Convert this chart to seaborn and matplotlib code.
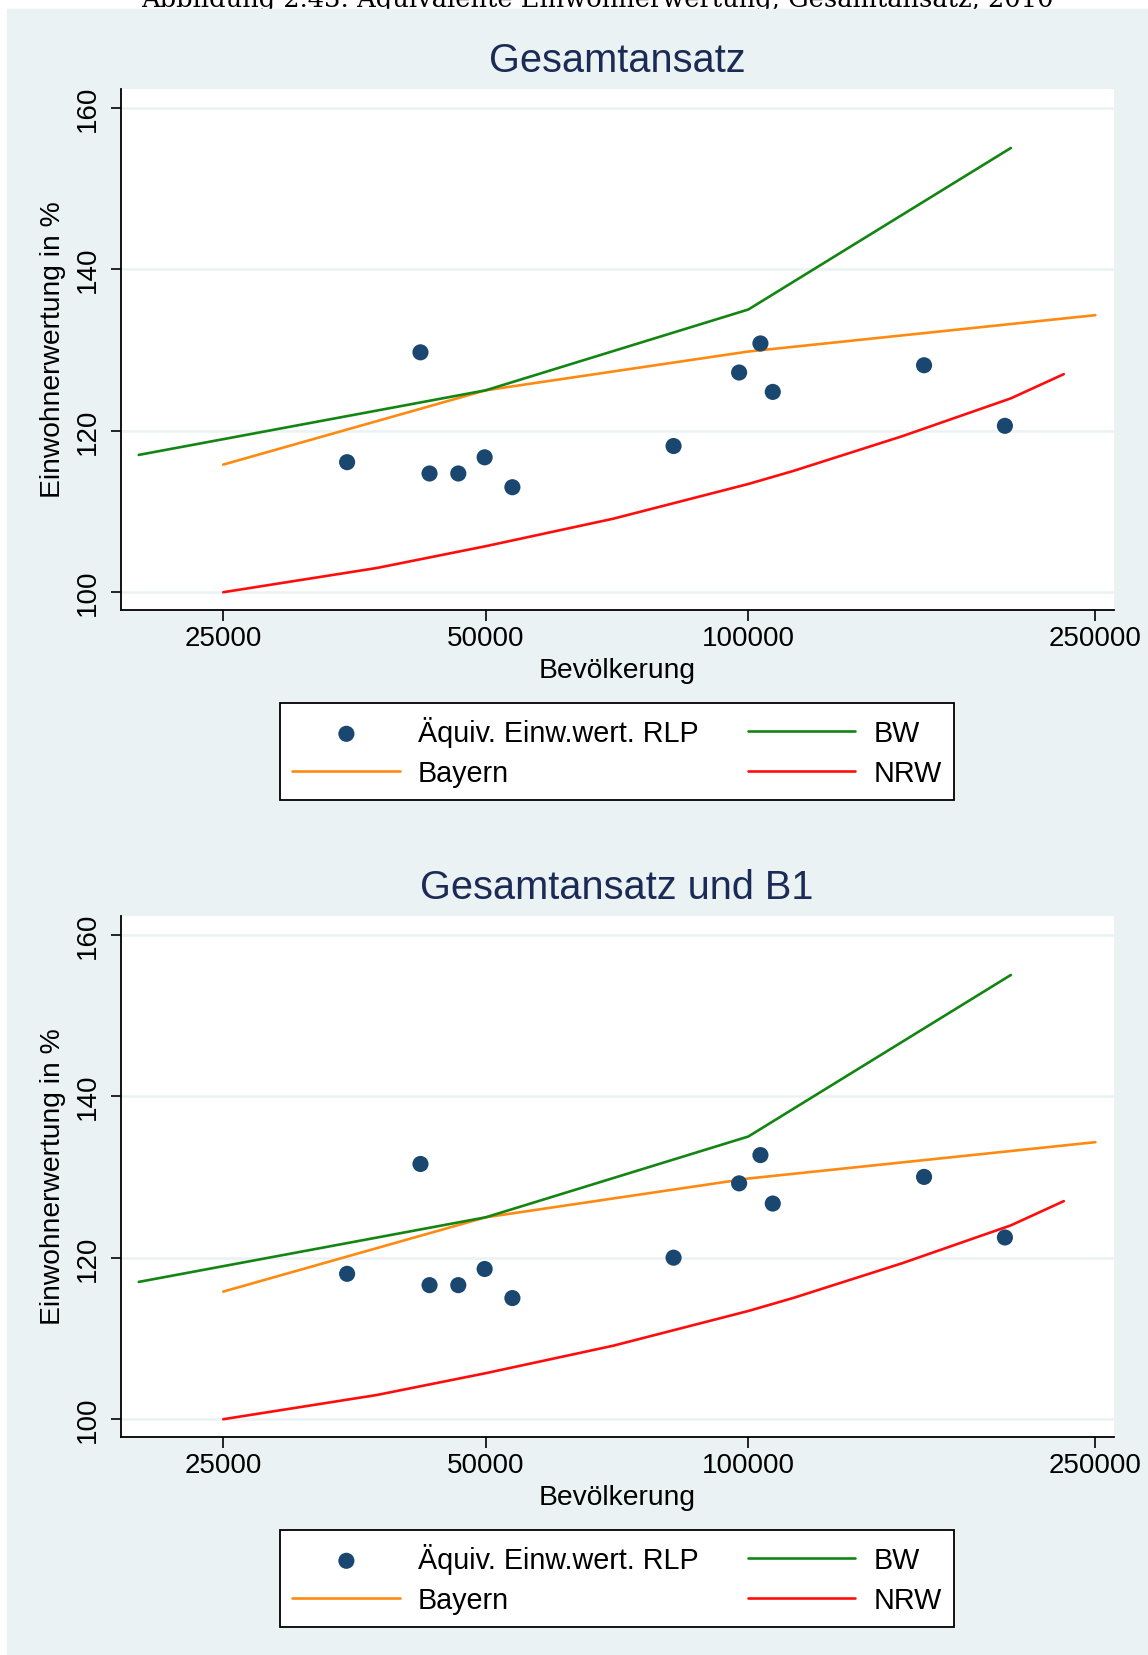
import numpy as np
import pandas as pd
import seaborn as sns
import matplotlib.pyplot as plt
from matplotlib.patches import Rectangle
from matplotlib.ticker import NullLocator

# --- data ---
rlp_pop = [34670, 42080, 43100, 46500, 49850, 53640, 82090, 97600, 103250, 106670, 159040, 196890]
rlp_gesamt = [116.1, 129.7, 114.7, 114.7, 116.7, 113.0, 118.1, 127.2, 130.8, 124.8, 128.1, 120.6]
rlp_gesamt_b1 = [118.0, 131.6, 116.6, 116.6, 118.6, 115.0, 120.0, 129.2, 132.7, 126.7, 130.0, 122.5]

bw_pop = [20000, 50000, 100000, 200000]
bw_val = [117.0, 125.0, 135.0, 155.0]
bayern_pop = [25000, 50000, 100000, 250000]
bayern_val = [115.8, 125.0, 129.8, 134.3]
nrw_pop = [25000, 37500, 50000, 70000, 100000, 112500, 150000, 200000, 230000]
nrw_val = [100.0, 103.0, 105.7, 109.1, 113.4, 115.0, 119.3, 124.0, 127.0]

x_ticks = [25000, 50000, 100000, 250000]
x_ticklabels = ["25000", "50000", "100000", "250000"]
y_ticks = [100, 120, 140, 160]

panel_titles = ["Gesamtansatz", "Gesamtansatz und B1"]
panel_points = [rlp_gesamt, rlp_gesamt_b1]
caption = "Abbildung 2.43: Äquivalente Einwohnerwertung, Gesamtansatz, 2010"

# --- style ---
sns.set_style("white")
plt.rcParams["font.family"] = ["Liberation Sans", "DejaVu Sans"]
plt.rcParams["text.color"] = "black"
plt.rcParams["axes.labelcolor"] = "black"

BG = "#eaf2f3"
NAVY = "#1a476f"
TITLE_C = "#1c2b55"
W, H = 1148, 1656

fig = plt.figure(figsize=(W / 100, H / 100), dpi=100)
fig.patch.set_facecolor("white")


def fy(py):
    return 1 - py / H


# caption, cut off at the top edge like the page crop
fig.text(597 / W, fy(7.3), caption, ha="center", va="baseline", fontsize=18.5,
         family=["DejaVu Serif"], color="black", zorder=-3)

# grey graph regions (behind the axes)
fig.patches.append(Rectangle((7.3 / W, fy(838)), 1 - 7.3 / W, (838 - 10) / H,
                             transform=fig.transFigure, color=BG, zorder=-2))
fig.patches.append(Rectangle((7.3 / W, 0), 1 - 7.3 / W, fy(839),
                             transform=fig.transFigure, color=BG, zorder=-2))

for i, (title, pts) in enumerate(zip(panel_titles, panel_points)):
    off = 827 * i
    ax = fig.add_axes([120.5 / W, fy(611.4 + off), 993.2 / W, 521.4 / H])
    ax.set_facecolor("white")

    sns.scatterplot(x=rlp_pop, y=pts, ax=ax, color=NAVY, s=135, edgecolor="none",
                    label="Äquiv. Einw.wert. RLP", zorder=4)
    sns.lineplot(x=bayern_pop, y=bayern_val, ax=ax, color="#ff8a12", lw=1.9,
                 sort=False, estimator=None, label="Bayern", zorder=3)
    sns.lineplot(x=bw_pop, y=bw_val, ax=ax, color="#138513", lw=1.9,
                 sort=False, estimator=None, label="BW", zorder=3)
    sns.lineplot(x=nrw_pop, y=nrw_val, ax=ax, color="#ff0d0d", lw=1.9,
                 sort=False, estimator=None, label="NRW", zorder=3)

    ax.set_xscale("log")
    ax.set_xlim(19060, 262400)
    ax.set_ylim(97.75, 162.3)
    ax.set_xticks(x_ticks)
    ax.set_xticklabels(x_ticklabels)
    ax.xaxis.set_minor_locator(NullLocator())
    ax.set_yticks(y_ticks)
    ax.set_yticklabels([str(v) for v in y_ticks])
    ax.set_xlabel("")
    ax.set_ylabel("")

    ax.grid(axis="y", color=BG, lw=1.8, zorder=0)
    ax.grid(axis="x", visible=False)
    ax.set_axisbelow(True)
    for side in ["top", "right"]:
        ax.spines[side].set_visible(False)
    for side in ["left", "bottom"]:
        ax.spines[side].set_color("black")
        ax.spines[side].set_linewidth(1.3)

    ax.tick_params(axis="x", direction="out", length=8, width=1.2, colors="black",
                   labelsize=20, pad=2.5, bottom=True)
    ax.tick_params(axis="y", direction="out", length=7, width=1.2, colors="black",
                   labelsize=20, pad=7, left=True)
    plt.setp(ax.get_yticklabels(), rotation=90, va="center")

    fig.text(617 / W, fy(72 + off), title, ha="center", va="baseline",
             fontsize=28.6, color=TITLE_C)
    fig.text(53 / W, fy(350 + off), "Einwohnerwertung in %", rotation=90,
             ha="center", va="center", fontsize=20.3, color="black")
    fig.text(617 / W, fy(671.5 + off), "Bevölkerung", ha="center", va="center",
             fontsize=20.3, color="black")

    handles, labels = ax.get_legend_handles_labels()
    order = ["Äquiv. Einw.wert. RLP", "Bayern", "BW", "NRW"]
    hmap = dict(zip(labels, handles))
    leg = ax.legend([hmap[k] for k in order], order, ncol=2, loc="upper center",
                    bbox_to_anchor=(617 / W, fy(704.4 + off)), bbox_transform=fig.transFigure,
                    borderaxespad=0, fontsize=20.7, frameon=True, fancybox=False,
                    framealpha=1, edgecolor="black", handlelength=3.75,
                    handletextpad=0.62, columnspacing=1.7, labelspacing=0.42,
                    borderpad=0.45, scatterpoints=1)
    leg.get_frame().set_linewidth(1.3)
    for t in leg.get_texts():
        t.set_color("black")

fig.savefig("out.png", dpi=100, facecolor="white")
